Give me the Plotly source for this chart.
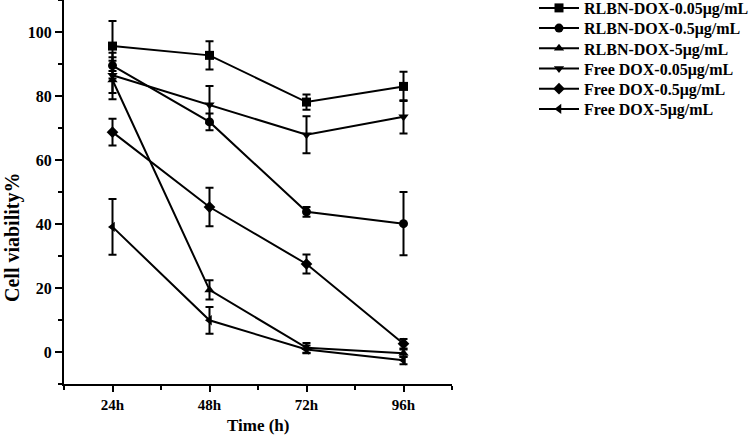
import plotly.graph_objects as go

time_labels = ["24h", "48h", "72h", "96h"]
series_names = [
    "RLBN-DOX-0.05μg/mL",
    "RLBN-DOX-0.5μg/mL",
    "RLBN-DOX-5μg/mL",
    "Free DOX-0.05μg/mL",
    "Free DOX-0.5μg/mL",
    "Free DOX-5μg/mL",
]
rlbn_005 = [95.6, 92.7, 78.1, 83.0]
rlbn_005_err = [7.8, 4.4, 2.4, 4.6]
rlbn_05 = [89.5, 71.9, 43.8, 40.1]
rlbn_05_err = [4.0, 2.6, 1.5, 9.9]
rlbn_5 = [85.0, 19.4, 1.3, -0.4]
rlbn_5_err = [6.0, 3.0, 1.5, 1.2]
free_005 = [86.5, 77.3, 67.9, 73.5]
free_005_err = [5.6, 5.8, 5.8, 5.2]
free_05 = [68.7, 45.3, 27.5, 2.6]
free_05_err = [4.2, 6.0, 3.0, 1.5]
free_5 = [39.1, 9.9, 0.8, -2.6]
free_5_err = [8.7, 4.2, 1.2, 1.2]

values = [rlbn_005, rlbn_05, rlbn_5, free_005, free_05, free_5]
errors = [rlbn_005_err, rlbn_05_err, rlbn_5_err, free_005_err, free_05_err, free_5_err]
symbols = ["square", "circle", "triangle-up", "triangle-down", "diamond", "triangle-left"]

FONT = "Liberation Serif"
W, H = 750, 444
M_L, M_R, M_T, M_B = 64, 298, 0, 60
PW, PH = W - M_L - M_R, H - M_T - M_B
x_pos = list(range(len(time_labels)))

fig = go.Figure()
legend_ids = ["legend", "legend2", "legend3", "legend4", "legend5", "legend6"]
for name, vals, errs, sym, lid in zip(series_names, values, errors, symbols, legend_ids):
    fig.add_trace(go.Scatter(
        x=x_pos, y=vals, name=name, mode="lines+markers",
        line=dict(color="black", width=2),
        marker=dict(symbol=sym, size=9, color="black"),
        error_y=dict(type="data", array=errs, visible=True, color="black",
                     thickness=2, width=4),
        legend=lid,
    ))

legend_layout = {}
for i, lid in enumerate(legend_ids):
    cy = 8 + 20.2 * i
    legend_layout[lid] = dict(
        xref="container", yref="container", x=534 / W, y=1 - cy / H,
        xanchor="left", yanchor="middle",
        font=dict(family=FONT, size=16, color="black", weight="bold"),
        bgcolor="rgba(0,0,0,0)", itemwidth=40,
    )

fig.update_layout(
    width=W, height=H,
    margin=dict(l=M_L, r=M_R, t=M_T, b=M_B),
    paper_bgcolor="white", plot_bgcolor="white",
    font=dict(family=FONT, color="black", size=14),
    showlegend=True,
    xaxis=dict(
        range=[-0.5, 3.5], tickmode="array", tickvals=x_pos, ticktext=time_labels,
        showline=True, linecolor="black", linewidth=2, mirror=False,
        ticks="outside", ticklen=6, tickwidth=2, tickcolor="black",
        minor=dict(tickmode="linear", tick0=-0.5, dtick=1, ticks="outside",
                   ticklen=4, tickwidth=2, tickcolor="black"),
        showgrid=False, zeroline=False,
        tickfont=dict(family=FONT, size=15, weight="bold"),
    ),
    yaxis=dict(
        range=[-10, 110], tickmode="array", tickvals=[0, 20, 40, 60, 80, 100],
        showline=True, linecolor="black", linewidth=2, mirror=False,
        ticks="outside", ticklen=7, tickwidth=2, tickcolor="black",
        minor=dict(tickmode="linear", tick0=-10, dtick=20, ticks="outside",
                   ticklen=4, tickwidth=2, tickcolor="black"),
        showgrid=False, zeroline=False,
        tickfont=dict(family=FONT, size=16, weight="bold"),
    ),
    annotations=[
        dict(text="Time (h)", xref="paper", yref="paper",
             x=0.5, y=-(425 - PH) / PH, xanchor="center", yanchor="middle",
             showarrow=False, font=dict(family=FONT, size=17, weight="bold")),
        dict(text="Cell viability%", xref="paper", yref="paper",
             x=(12 - M_L) / PW, y=(PH - 238) / PH, xanchor="center", yanchor="middle",
             textangle=-90, showarrow=False,
             font=dict(family=FONT, size=20, weight="bold")),
    ],
    **legend_layout,
)

fig.write_html("out.html", config={"displayModeBar": False},
               post_script="document.body.style.margin='0';")
